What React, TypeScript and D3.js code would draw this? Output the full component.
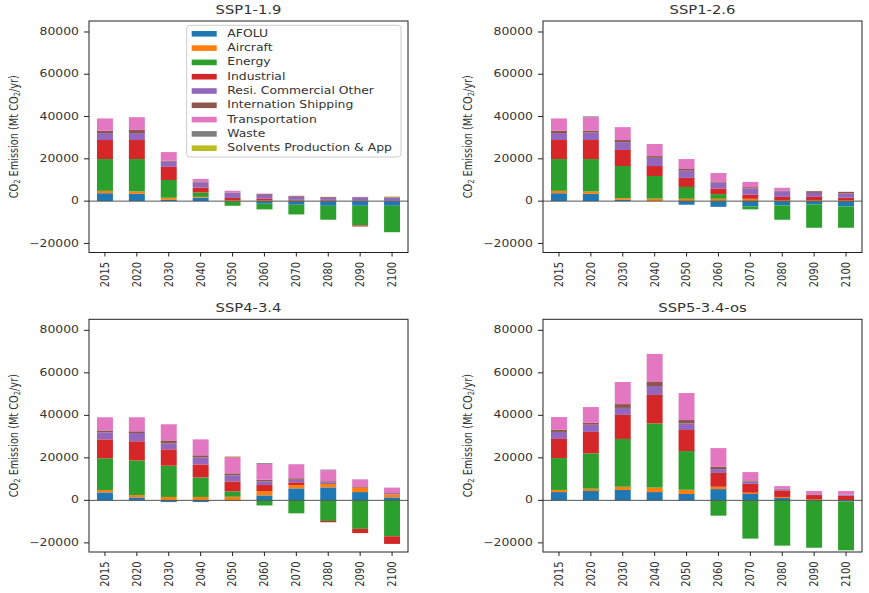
import React from "react";
import * as d3 from "d3";

const years = ["2015", "2020", "2030", "2040", "2050", "2060", "2070", "2080", "2090", "2100"];
const sectors = [
  "AFOLU",
  "Aircraft",
  "Energy",
  "Industrial",
  "Resi. Commercial Other",
  "Internation Shipping",
  "Transportation",
  "Waste",
  "Solvents Production & App",
];
const sectorColors = ["#1f77b4", "#ff7f0e", "#2ca02c", "#d62728", "#9467bd", "#8c564b", "#e377c2", "#7f7f7f", "#bcbd22"];
const yTicks = [-20000, 0, 20000, 40000, 60000, 80000];
const scenarioTitles = ["SSP1-1.9", "SSP1-2.6", "SSP4-3.4", "SSP5-3.4-os"];

// rows follow the sector order, columns follow the years
const ssp119 = [
  [3750, 3450, 600, 1600, -300, -1250, -1700, -2200, -2200, -2200],
  [1100, 1100, 1000, 400, 500, 500, 300, 300, 200, 200],
  [15050, 15350, 8400, 2100, -1900, -2650, -4600, -6600, -9300, -12500],
  [9000, 9000, 6200, 2300, 1000, 600, 300, 300, -500, 0],
  [3300, 3300, 2500, 2400, 2400, 1900, 1500, 1000, 1600, 1500],
  [1100, 1500, 400, 500, 200, 400, 400, 400, 200, 200],
  [5800, 6000, 4100, 1200, 800, 150, 0, 0, 0, 0],
  [0, 0, 0, 0, 0, 0, 0, 0, 0, 0],
  [0, 0, 0, 0, 0, 0, 0, 0, 0, 300],
];
const ssp126 = [
  [3750, 3450, 600, 0, -1700, -2700, -2500, -2000, -1600, -2500],
  [1100, 1100, 800, 1200, 1100, 1100, 1100, 500, 500, 500],
  [15050, 15350, 15200, 10700, 5600, 2200, -1400, -6800, -11000, -10100],
  [9000, 9000, 7600, 4700, 4300, 2700, 1900, 1500, 1500, 1100],
  [3300, 3600, 3700, 3900, 3400, 2800, 3000, 2700, 1900, 2000],
  [1100, 900, 1000, 800, 800, 500, 600, 300, 800, 800],
  [5800, 6300, 6100, 5700, 4700, 4000, 2500, 1300, 0, 0],
  [0, 400, 0, 0, 0, 0, 0, 0, 0, 0],
  [0, 0, 0, 0, 0, 0, 0, 0, 0, 0],
];
const ssp434 = [
  [3750, 1400, -800, -800, -200, 2350, 5650, 6100, 3900, 1400],
  [1100, 1100, 1600, 1600, 1700, 2050, 1550, 1600, 2100, 1400],
  [14950, 16300, 14700, 9200, 2500, -2400, -6100, -9700, -13400, -16900],
  [8900, 9000, 7700, 6100, 4700, 2800, 1300, -600, -2000, -3600],
  [3300, 3900, 2800, 3300, 2900, 1700, 1200, 800, 0, 200],
  [900, 800, 1400, 1000, 900, 800, 700, 500, 300, 400],
  [6200, 6600, 7600, 7500, 7700, 7400, 6600, 5200, 3600, 2600],
  [0, 0, 0, 0, 0, 400, 0, 300, 0, 0],
  [0, 0, 0, 0, 300, 0, 0, 0, 0, 0],
];
const ssp534os = [
  [3900, 4400, 4900, 3900, 3000, 5300, 3000, 1100, 200, -600],
  [1000, 1100, 1500, 2100, 2000, 1100, 600, 500, 200, 100],
  [15000, 16600, 22500, 30200, 18200, -7200, -18000, -21300, -22300, -22900],
  [9000, 10100, 11300, 13400, 9900, 6500, 4200, 3100, 2100, 2100],
  [3300, 3400, 3300, 4200, 3100, 1800, 1100, 500, 300, 500],
  [1100, 900, 1800, 1900, 1600, 1100, 500, 200, 100, 100],
  [5900, 7400, 10400, 13200, 12700, 8800, 3900, 1300, 1500, 1600],
  [0, 0, 0, 0, 0, 0, 0, 0, 0, 0],
  [0, 0, 0, 0, 0, 0, 0, 0, 0, 0],
];
const scenarioData = [ssp119, ssp126, ssp434, ssp534os];

const W = 869;
const H = 593;
const FONT = "DejaVu Sans, sans-serif";
const SQ = 0.8; // vertical squeeze of the original picture
const INK = "#333";

const panels = [
  { x0: 89, x1: 408, y0: 21, y1: 252.5 },
  { x0: 543, x1: 862, y0: 21, y1: 252.5 },
  { x0: 89, x1: 408, y0: 319.3, y1: 552 },
  { x0: 543, x1: 862, y0: 319.3, y1: 552 },
];

function Panel({ idx }: { idx: number }) {
  const p = panels[idx];
  const data = scenarioData[idx];
  const x = d3.scaleBand<string>().domain(years).range([p.x0, p.x1]).paddingInner(0.5).paddingOuter(0.25);
  const y = d3.scaleLinear().domain([-24300, 85200]).range([p.y1, p.y0]);
  const rows = years.map((yr, j) => {
    const o: any = { year: yr };
    sectors.forEach((s, i) => (o[s] = data[i][j]));
    return o;
  });
  const stacked = d3.stack<any>().keys(sectors).offset(d3.stackOffsetDiverging)(rows);
  const cx = (p.x0 + p.x1) / 2;
  const cy = (p.y0 + p.y1) / 2;
  return (
    <g>
      {stacked.map((layer, i) => (
        <g key={i} fill={sectorColors[i]}>
          {layer.map((d, j) => {
            const top = y(Math.max(d[0], d[1]));
            const bot = y(Math.min(d[0], d[1]));
            if (bot - top <= 0) return null;
            return <rect key={j} x={x(years[j])} width={x.bandwidth()} y={top} height={bot - top} />;
          })}
        </g>
      ))}
      <line x1={p.x0} x2={p.x1} y1={y(0)} y2={y(0)} stroke="#555" strokeWidth={1} />
      <rect x={p.x0} y={p.y0} width={p.x1 - p.x0} height={p.y1 - p.y0} fill="none" stroke="#222" strokeWidth={1} />
      {yTicks.map((t) => (
        <g key={t}>
          <line x1={p.x0 - 5} x2={p.x0} y1={y(t)} y2={y(t)} stroke="#222" />
          <text
            transform={`translate(${p.x0 - 10},${y(t)}) scale(1,${SQ})`}
            textAnchor="end"
            dominantBaseline="central"
            fontFamily={FONT}
            fontSize={12.4}
            fill={INK}
          >
            {t < 0 ? "\u2212" + Math.abs(t) : String(t)}
          </text>
        </g>
      ))}
      {years.map((yr) => {
        const c = (x(yr) as number) + x.bandwidth() / 2;
        return (
          <g key={yr}>
            <line x1={c} x2={c} y1={p.y1} y2={p.y1 + 4} stroke="#222" />
            <text
              transform={`translate(${c},${p.y1 + 9.5}) rotate(-90) scale(${SQ},1)`}
              textAnchor="end"
              dominantBaseline="central"
              fontFamily={FONT}
              fontSize={12.4}
              fill={INK}
            >
              {yr}
            </text>
          </g>
        );
      })}
      <text
        transform={`translate(${p.x0 - 75},${cy}) rotate(-90) scale(${SQ},1)`}
        textAnchor="middle"
        dominantBaseline="central"
        fontFamily={FONT}
        fontSize={12.2}
        fill={INK}
      >
        CO<tspan fontSize={8.5} dy={3}>2</tspan>
        <tspan dy={-3}> Emission (Mt CO</tspan>
        <tspan fontSize={8.5} dy={3}>2</tspan>
        <tspan dy={-3}>/yr)</tspan>
      </text>
      <text
        transform={`translate(${cx},${p.y0 - 7}) scale(1,${SQ})`}
        textAnchor="middle"
        fontFamily={FONT}
        fontSize={14.8}
        fill={INK}
      >
        {scenarioTitles[idx]}
      </text>
    </g>
  );
}

function Legend() {
  const lx = 186.7;
  const ly = 25.3;
  return (
    <g>
      <rect x={lx} y={ly} width={214.3} height={131.7} rx={3} fill="white" fillOpacity={0.8} stroke="#ccc" strokeWidth={1} />
      {sectors.map((s, i) => {
        const cy = 33.8 + i * 14.3;
        return (
          <g key={s}>
            <rect x={191.7} y={cy - 2.8} width={25} height={5.6} fill={sectorColors[i]} />
            <text
              transform={`translate(227.3,${cy}) scale(1,${SQ})`}
              dominantBaseline="central"
              fontFamily={FONT}
              fontSize={12.4}
              fill={INK}
            >
              {s}
            </text>
          </g>
        );
      })}
    </g>
  );
}

export default function App() {
  return (
    <svg width={W} height={H} style={{ position: "absolute", left: 0, top: 0, background: "white" }}>
      <rect width={W} height={H} fill="white" />
      {panels.map((_, i) => (
        <Panel key={i} idx={i} />
      ))}
      <Legend />
    </svg>
  );
}
